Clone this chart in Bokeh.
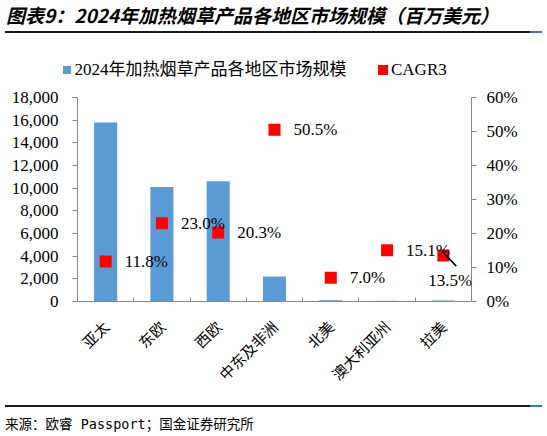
from math import pi

from bokeh.core.properties import value
from bokeh.embed import file_html
from bokeh.layouts import column
from bokeh.models import (ColumnDataSource, Div, FixedTicker, Label, LabelSet,
                          LinearAxis, NumeralTickFormatter, PrintfTickFormatter,
                          Range1d)
from bokeh.plotting import figure
from bokeh.resources import INLINE

# regions on the x axis
REGIONS = ["亚太", "东欧", "西欧", "中东及非洲", "北美", "澳大利亚州", "拉美"]
# 2024 heated tobacco market size per region (million USD)
MARKET_SIZE = [15800, 10100, 10600, 2200, 100, 60, 80]
# three year CAGR (%)
CAGR3 = [11.8, 23.0, 20.3, 50.5, 7.0, 15.1, 13.5]

SIZE_TICKS = list(range(0, 18001, 2000))
PCT_TICKS = list(range(0, 61, 10))

TITLE = "图表9：2024年加热烟草产品各地区市场规模（百万美元）"
LEGEND_SIZE = "2024年加热烟草产品各地区市场规模"
LEGEND_CAGR = "CAGR3"
SOURCE = "来源：欧睿 Passport；国金证券研究所"

SERIF = "'Liberation Serif', 'Noto Sans CJK SC'"
CJK = "'Noto Sans CJK SC'"
GREY = "#868686"
BLUE = "#5B9BD5"
RED = "#FF0000"
RULE = "#1a1a1a"
RULE_END = "#3b7bb5"

W = 547
H_TOP, H_MAIN, H_BOT = 80, 320, 36


def rule_html(top):
    return (
        f'<div style="position:absolute;left:5px;top:{top}px;width:525px;'
        f'height:2px;background:{RULE};"></div>'
        f'<div style="position:absolute;left:530px;top:{top}px;width:12px;'
        f'height:2px;background:{RULE_END};"></div>'
    )


def swatch_html(left, size, color, text_left, text):
    top = 70 - size / 2
    return (
        f'<div style="position:absolute;left:{left}px;top:{top}px;'
        f'width:{size}px;height:{size}px;background:{color};"></div>'
        f'<div style="position:absolute;left:{text_left}px;top:60px;'
        f'line-height:20px;white-space:nowrap;font-family:{SERIF};'
        f'font-size:17px;color:black;">{text}</div>'
    )


xs = [i + 0.5 for i in range(len(REGIONS))]
src = ColumnDataSource(dict(
    x=xs,
    size=MARKET_SIZE,
    cagr=CAGR3,
))
# all labels but the last one sit to the right of their marker
lbl_src = ColumnDataSource(dict(
    x=xs[:-1],
    cagr=CAGR3[:-1],
    label=[f"{v:.1f}%" for v in CAGR3[:-1]],
))

# ---- header: title, rule and legend
header = Div(
    width=W, height=H_TOP, margin=0,
    text=(
        f'<div style="position:relative;width:{W}px;height:{H_TOP}px;">'
        f'<div style="position:absolute;left:6px;top:3px;line-height:24px;'
        f'white-space:nowrap;font-family:{CJK};font-size:19px;'
        f'font-weight:bold;font-style:italic;color:black;">{TITLE}</div>'
        + rule_html(31)
        + swatch_html(62.5, 8, BLUE, 74.5, LEGEND_SIZE)
        + swatch_html(377.5, 10, RED, 391, LEGEND_CAGR)
        + '</div>'
    ),
)

# ---- main chart
p = figure(
    width=W, height=H_MAIN,
    x_range=Range1d(0, len(REGIONS)),
    y_range=Range1d(0, SIZE_TICKS[-1]),
    output_backend="svg",
    toolbar_location=None,
    min_border_left=77, min_border_right=76,
    min_border_top=17, min_border_bottom=99,
)
p.extra_y_ranges = {"pct": Range1d(0, PCT_TICKS[-1])}
p.grid.visible = False
p.outline_line_color = None

# bars
p.vbar(x="x", top="size", width=0.41, source=src,
       fill_color=BLUE, line_color=None)

# CAGR markers
p.rect(x="x", y="cagr", width=12, height=12,
       width_units="screen", height_units="screen",
       source=src, y_range_name="pct",
       fill_color=RED, line_color=None)

# leader line for the last label
p.segment(x0=[xs[-1] - 0.02], y0=[CAGR3[-1] + 1.2],
          x1=[xs[-1] + 0.23], y1=[CAGR3[-1] - 3.1],
          y_range_name="pct", line_color="black", line_width=1.5)

p.add_layout(LabelSet(
    x="x", y="cagr", text="label", source=lbl_src, y_range_name="pct",
    x_offset=19, text_baseline="middle",
    text_font=value("Liberation Serif"), text_font_size="17px",
    text_color="black"))
p.add_layout(Label(
    x=xs[-1], y=CAGR3[-1], y_range_name="pct", text=f"{CAGR3[-1]:.1f}%",
    x_offset=-15, y_offset=-25, text_baseline="middle",
    text_font="Liberation Serif", text_font_size="17px", text_color="black"))

# x axis: labels at category centres, small ticks at boundaries
xa = p.xaxis[0]
xa.ticker = FixedTicker(ticks=xs, minor_ticks=list(range(1, len(REGIONS))))
xa.major_label_overrides = {x: r for x, r in zip(xs, REGIONS)}
xa.major_label_orientation = pi / 4
xa.major_label_text_font = CJK
xa.major_label_text_font_size = "15px"
xa.major_label_text_color = "black"
xa.major_label_standoff = 16
xa.major_tick_line_color = None
xa.minor_tick_line_color = GREY
xa.minor_tick_in = 4
xa.minor_tick_out = 0
xa.axis_line_color = GREY

# left axis
ya = p.yaxis[0]
ya.ticker = FixedTicker(ticks=SIZE_TICKS)
ya.formatter = NumeralTickFormatter(format="0,0")
ya.major_label_text_font = SERIF
ya.major_label_text_font_size = "17px"
ya.major_label_text_color = "black"
ya.major_tick_out = 5
ya.major_tick_in = 0
ya.major_label_standoff = 14
ya.minor_tick_line_color = None
ya.major_tick_line_color = GREY
ya.axis_line_color = GREY

# right axis
ra = LinearAxis(y_range_name="pct", ticker=FixedTicker(ticks=PCT_TICKS),
                formatter=PrintfTickFormatter(format="%d%%"))
ra.major_label_text_font = SERIF
ra.major_label_text_font_size = "17px"
ra.major_label_text_color = "black"
ra.major_tick_out = 5
ra.major_tick_in = 0
ra.major_label_standoff = 10
ra.minor_tick_line_color = None
ra.major_tick_line_color = GREY
ra.axis_line_color = GREY
p.add_layout(ra, "right")

# ---- footer: rule and source note
footer = Div(
    width=W, height=H_BOT, margin=0,
    text=(
        f'<div style="position:relative;width:{W}px;height:{H_BOT}px;">'
        + rule_html(5) +
        f'<div style="position:absolute;left:5px;top:16px;line-height:16px;'
        f'white-space:nowrap;font-family:\'DejaVu Sans Mono\',{CJK};'
        f'font-size:13.5px;color:black;">{SOURCE}</div></div>'
    ),
)

layout = column(header, p, footer, spacing=0)
open("out.html", "w").write(file_html(layout, INLINE))
